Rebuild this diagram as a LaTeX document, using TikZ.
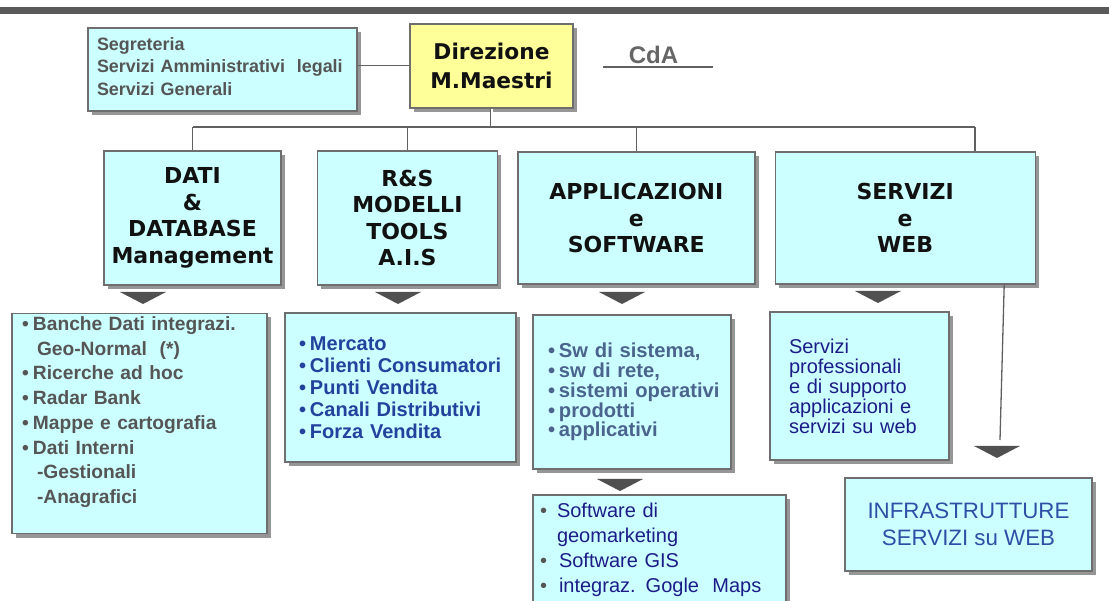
\documentclass[tikz,border=0pt]{standalone}
\usepackage{fontspec}
\setmainfont{Liberation Sans}
\newfontfamily\hdfont{DejaVu Sans}
\usepackage{xcolor}
\usepackage{tikz}
\usetikzlibrary{positioning, calc, shadows}
\definecolor{cyanbox}{RGB}{204, 255, 255}
\definecolor{yellowbox}{RGB}{255, 255, 153}
\definecolor{edge}{RGB}{110, 110, 110}
\definecolor{shade}{RGB}{150, 150, 150}
\definecolor{topbar}{RGB}{90, 90, 90}
\definecolor{wire}{RGB}{96, 96, 96}
\definecolor{tricol}{RGB}{80, 80, 80}
\definecolor{graytext}{RGB}{85, 85, 85}
\definecolor{bluetext}{RGB}{34, 66, 158}
\definecolor{steeltext}{RGB}{74, 100, 142}
\definecolor{navytext}{RGB}{28, 28, 136}
\definecolor{infratext}{RGB}{45, 79, 165}
\definecolor{darktext}{RGB}{17, 17, 17}

\newcommand{\itm}[1][11pt]{\makebox[#1][l]{\textbullet}}
\newcommand{\downtri}[2]{\fill[tricol] (#1-23,#2) -- (#1+23,#2) -- (#1,#2+12) -- cycle;}

\begin{document}
\begin{tikzpicture}[x=1pt, y=-1pt,
    node distance=19pt,
    box/.style={rectangle, draw=edge, line width=1.4pt, fill=cyanbox,
                drop shadow={shadow xshift=4pt, shadow yshift=-4pt, fill=shade, opacity=1}},
    head/.style={box, align=center, text=darktext,
                 font=\hdfont\bfseries\fontsize{22}{26.5}\selectfont},
    listbox/.style={box, align=left},
    wire/.style={draw=wire, line width=1.3pt}
]

\clip (0,0) rectangle (1109,601);
\fill[white] (0,0) rectangle (1109,601);
\fill[topbar] (0,7) rectangle (1109,14);

% Direzione
\node[box, fill=yellowbox, minimum width=163pt, minimum height=84pt, align=center,
      text=darktext, font=\hdfont\bfseries\fontsize{21.7}{29}\selectfont]
      (direz) at (491.5,66) {Direzione\\M.Maestri};
\node[listbox, text width=251pt, inner xsep=9pt, minimum height=83pt, text=graytext,
      font=\bfseries\fontsize{17.9}{22.3}\selectfont]
      (seg) at (222.5,69.5) {Segreteria\\Servizi Amministrativi~ legali\\Servizi Generali\rule[-6pt]{0pt}{0pt}};
\node[text=graytext!90, font=\bfseries\fontsize{24}{28}\selectfont] (cda) at (653.5,54.5) {CdA};
\coordinate (cdaL) at (603,67);
\coordinate (cdaR) at (713,67);

% Aree
\node[head, minimum width=177pt, minimum height=134pt] (dati) at (192.5,218)
      {DATI\\\&\\DATABASE\\Management};
\node[head, minimum width=180pt, minimum height=134pt, right=35pt of dati] (rs)
      {R\&S\\MODELLI\\TOOLS\\A.I.S};
\node[head, minimum width=237pt, minimum height=132pt, right=of rs] (app)
      {APPLICAZIONI\\e\\SOFTWARE};
\node[head, minimum width=260pt, minimum height=132pt, right=of app] (serv)
      {SERVIZI\\e\\WEB};

% Dettagli
\node[listbox, text width=235pt, inner xsep=10pt, minimum height=217pt, text=graytext,
      font=\bfseries\fontsize{19.2}{24.7}\selectfont] (banche) at (139.5,423.5)
      {\itm Banche Dati integrazi.\\
       \hspace*{15pt}Geo-Normal~ (*)\\
       \itm Ricerche ad hoc\\
       \itm Radar Bank\\
       \itm Mappe e cartografia\\
       \itm Dati Interni\\
       \hspace*{15pt}-Gestionali\\
       \hspace*{15pt}-Anagrafici\rule[-27pt]{0pt}{0pt}};
\node[listbox, text width=203pt, inner xsep=14pt, minimum height=149pt, text=bluetext,
      font=\bfseries\fontsize{20}{22}\selectfont] (mercato) at (400.5,387.5)
      {\itm Mercato\\\itm Clienti Consumatori\\\itm Punti Vendita\\
       \itm Canali Distributivi\\\itm Forza Vendita};
\node[listbox, text width=180pt, inner xsep=9pt, minimum height=154pt, text=steeltext,
      font=\bfseries\fontsize{20.2}{19.8}\selectfont] (sw) at (632,392)
      {\hspace*{6pt}\itm Sw di sistema,\\\hspace*{6pt}\itm sw di rete,\\
       \hspace*{6pt}\itm sistemi operativi\\
       \hspace*{6pt}\itm prodotti\\\hspace*{6pt}\itm applicativi};
\node[listbox, text width=141pt, inner xsep=19pt, minimum height=148pt, text=navytext,
      font=\fontsize{20}{20}\selectfont] (prof) at (859.5,386)
      {Servizi\\professionali\\e di supporto\\applicazioni e\\servizi su web};
\node[listbox, text width=239pt, inner xsep=7pt, minimum height=125pt, text=navytext,
      font=\fontsize{20}{25}\selectfont] (geomkt) at (659.5,557.5)
      {{\color{graytext}\itm[17pt]}Software di\\
       \hspace*{17pt}geomarketing\\
       {\color{graytext}\itm[19pt]}Software GIS\\
       {\color{graytext}\itm[19pt]}integraz. Gogle~~Maps\rule[-20pt]{0pt}{0pt}};
\node[box, minimum width=247pt, minimum height=93pt, align=center, text=infratext,
      font=\fontsize{22.3}{26.7}\selectfont] (infra) at (968.5,524.5)
      {INFRASTRUTTURE\\SERVIZI su WEB};

% Linee
\coordinate (busL) at (193,127);
\coordinate (busR) at (975,127);
\coordinate (infratop) at (1000,440);
\draw[wire] ($(seg.east)+(0,-4)$) -- ($(seg.east -| direz.west)+(0,-4)$);
\draw[wire, line width=1.5pt] (cdaL) -- (cdaR);
\draw[draw=wire, line width=0.8pt, double=white, double distance=2pt]
      (direz.south) -- (direz.south |- busL);
\draw[wire] (busL) -- (busR);
\draw[wire] (dati.north) -- (dati.north |- busL);
\draw[wire] (rs.north) -- (rs.north |- busL);
\draw[wire] (app.north) -- (app.north |- busL);
\draw[wire] (busR) -- (busR |- serv.north);
\draw[wire] ($(serv.south)+(99,0)$) -- (infratop);

% Frecce
\downtri{143}{292}
\downtri{398}{292}
\downtri{622}{292}
\downtri{878}{291}
\downtri{620}{479}
\downtri{997}{446}

\end{tikzpicture}
\end{document}
